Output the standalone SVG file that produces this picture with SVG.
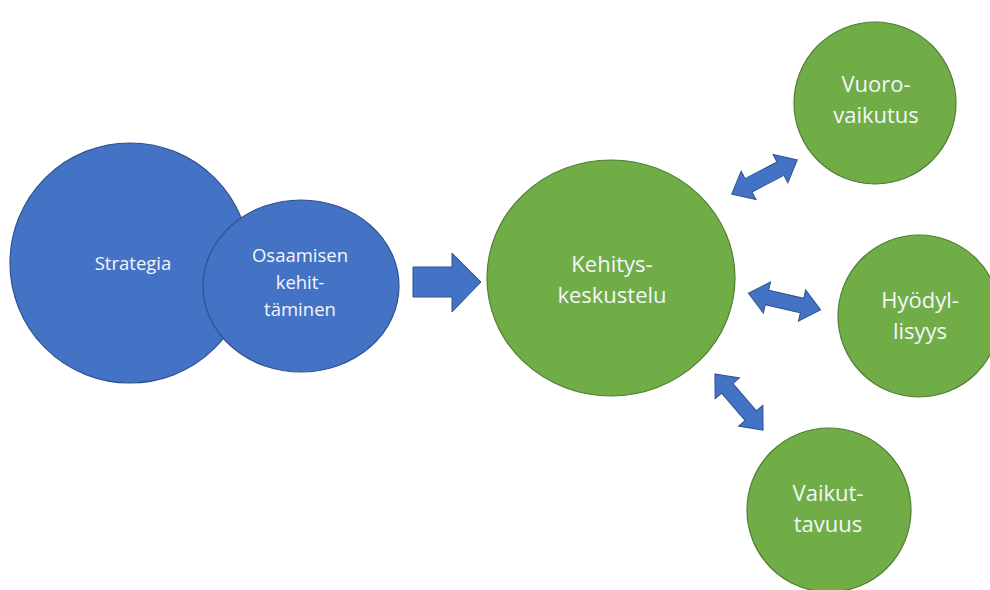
<svg xmlns="http://www.w3.org/2000/svg" width="990" height="590" viewBox="0 0 990 590">
<style>
.blue{fill:#4472C4;stroke:#2F528F;stroke-width:1.2}
.green{fill:#70AD47;stroke:#507E32;stroke-width:1.2}
.arr{fill:#4472C4;stroke:#2F528F;stroke-width:1}
text{font-family:"Open Sans","Liberation Sans",sans-serif;fill:#f4f6fb;text-anchor:middle}
.s{font-size:18.5px}
.m{font-size:22px}
</style>
<defs>
<polygon id="dbl" points="-37,0 -18,-16 -18,-7.5 18,-7.5 18,-16 37,0 18,16 18,7.5 -18,7.5 -18,16"/>
</defs>
<rect width="990" height="590" fill="#fff"/>
<g id="strategia">
<ellipse class="blue" cx="130" cy="263" rx="120" ry="120"/>
<text class="s" x="133" y="270">Strategia</text>
</g>
<g id="osaamisen">
<ellipse class="blue" cx="301" cy="286" rx="98" ry="86"/>
<text class="s" x="300" y="262">Osaamisen</text>
<text class="s" x="300" y="289">kehit-</text>
<text class="s" x="300" y="316">täminen</text>
</g>
<g id="kehitys">
<ellipse class="green" cx="611" cy="278" rx="124" ry="118"/>
<text class="m" x="612" y="272">Kehitys-</text>
<text class="m" x="612" y="303">keskustelu</text>
</g>
<g id="vuoro">
<circle class="green" cx="875" cy="103" r="81"/>
<text class="m" x="876" y="92">Vuoro-</text>
<text class="m" x="876" y="123">vaikutus</text>
</g>
<g id="hyodyl">
<circle class="green" cx="919" cy="316" r="81"/>
<text class="m" x="920" y="308">Hyödyl-</text>
<text class="m" x="920" y="339">lisyys</text>
</g>
<g id="vaikut">
<circle class="green" cx="829" cy="510" r="82"/>
<text class="m" x="828" y="501">Vaikut-</text>
<text class="m" x="828" y="532">tavuus</text>
</g>
<g id="connectors">
<polygon class="arr" points="413,267 452,267 452,253 481,282 452,312 452,297 413,297"/>
<use href="#dbl" class="arr" transform="translate(764.5,177) rotate(-27.6)"/>
<use href="#dbl" class="arr" transform="translate(784.5,301.5) rotate(13.1)"/>
<use href="#dbl" class="arr" transform="translate(739,402) rotate(49.4)"/>
</g>
</svg>
